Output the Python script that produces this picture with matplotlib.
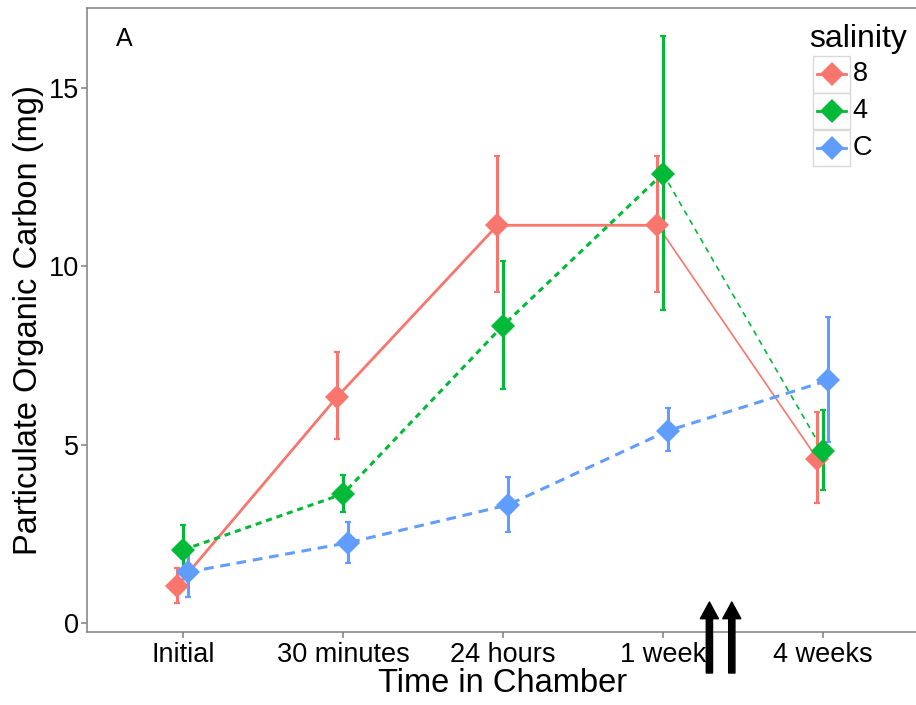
import matplotlib.pyplot as plt
import numpy as np

plt.rcParams['font.family'] = ['Liberation Sans', 'DejaVu Sans']

# times in chamber
times = ["Initial", "30 minutes", "24 hours", "1 week", "4 weeks"]

# mean particulate organic carbon (mg) and error bar limits per salinity
poc_8 = [1.05, 6.35, 11.15, 11.15, 4.6]
lo_8 = [0.56, 5.15, 9.27, 9.27, 3.36]
hi_8 = [1.55, 7.6, 13.08, 13.08, 5.92]

poc_4 = [2.05, 3.62, 8.34, 12.6, 4.83]
lo_4 = [1.4, 3.11, 6.57, 8.78, 3.73]
hi_4 = [2.75, 4.16, 10.14, 16.46, 5.97]

poc_c = [1.43, 2.25, 3.31, 5.39, 6.8]
lo_c = [0.73, 1.68, 2.55, 4.82, 5.07]
hi_c = [2.1, 2.83, 4.09, 6.03, 8.58]

col_8 = "#F8766D"
col_4 = "#00BA38"
col_c = "#619CFF"

fig = plt.figure(figsize=(9.16, 7.05), dpi=100)
ax = fig.add_axes([87 / 916, 73 / 705, 832 / 916, 624 / 705])

x = np.arange(1, len(times) + 1)

series = [
    ("8", poc_8, lo_8, hi_8, col_8, -0.035, "-", "-", 2, 3),
    ("4", poc_4, lo_4, hi_4, col_4, 0.0, (0, (2, 1.6)), (0, (3.4, 3.0)), 2.2, 4),
    ("C", poc_c, lo_c, hi_c, col_c, 0.03, (0, (3.2, 2.2)), None, 2.2, 5),
]

for name, y, lo, hi, col, dx, ls, ls_thin, lw, zp in series:
    xs = x + dx
    y = np.array(y)
    # thick line up to 1 week, thinner afterwards for 8 and 4
    if ls_thin is None:
        ax.plot(xs, y, color=col, lw=lw, ls=ls, zorder=2)
    else:
        ax.plot(xs[:4], y[:4], color=col, lw=lw, ls=ls, zorder=2)
        ax.plot(xs[3:], y[3:], color=col, lw=1.2, ls=ls_thin, zorder=2)
    yerr = [y - np.array(lo), np.array(hi) - y]
    ax.errorbar(xs, y, yerr=yerr, fmt="none", ecolor=col, elinewidth=2.2,
                capsize=2.2, capthick=1.6, zorder=2.5)
    ax.plot(xs, y, ls="none", marker="D", ms=12, color=col, mew=0, zorder=zp)

ax.set_xlim(0.4, 5.6)
ax.set_ylim(-0.25, 17.24)
ax.set_xticks(x)
ax.set_xticklabels(times)
ax.set_yticks([0, 5, 10, 15])
ax.tick_params(axis="both", labelsize=19.5, colors="#7f7f7f", length=4,
               width=1.1, labelcolor="black")
ax.tick_params(axis="y", pad=2)
ax.tick_params(axis="x", pad=3)
for sp in ax.spines.values():
    sp.set_color("#7f7f7f")
    sp.set_linewidth(1.1)

ax.set_xlabel("Time in Chamber", fontsize=23.5, labelpad=0)
ax.set_ylabel("Particulate Organic Carbon (mg)", fontsize=23.5, labelpad=3)

ax.text(0.0445, 0.950, "A", transform=ax.transAxes, fontsize=18,
        ha="center", va="center")

# legend built by hand (grey boxes round the keys)
ax.text(0.868, 0.950, "salinity", transform=ax.transAxes, fontsize=23,
        ha="left", va="center")
box_top = [0.923, 0.864, 0.8045]
box_h = 0.0585
labels = ["8", "4", "C"]
cols = [col_8, col_4, col_c]
for top, lab, col in zip(box_top, labels, cols):
    ax.add_patch(plt.Rectangle((0.8726, top - box_h), 0.0444, box_h,
                               transform=ax.transAxes, facecolor="white",
                               edgecolor="#d9d9d9", lw=1, zorder=6))
    ax.plot([0.878, 0.912], [top - box_h / 2] * 2, color=col, lw=2,
            transform=ax.transAxes, zorder=7)
    ax.plot([0.895], [top - box_h / 2], marker="D", ms=12, color=col, mew=0,
            transform=ax.transAxes, zorder=8)
    ax.text(0.920, top - box_h / 2, lab, transform=ax.transAxes, fontsize=19.5,
            ha="left", va="center")

# the two arrows below the axis
for ax_x in [4.29, 4.43]:
    ax.annotate("", xy=(ax_x, 103), xytext=(ax_x, 32),
                xycoords=("data", "figure pixels"),
                textcoords=("data", "figure pixels"),
                arrowprops=dict(facecolor="black", edgecolor="black",
                                width=4.5, headwidth=13, headlength=12,
                                shrink=0),
                annotation_clip=False)

fig.savefig("out.png", dpi=100)
